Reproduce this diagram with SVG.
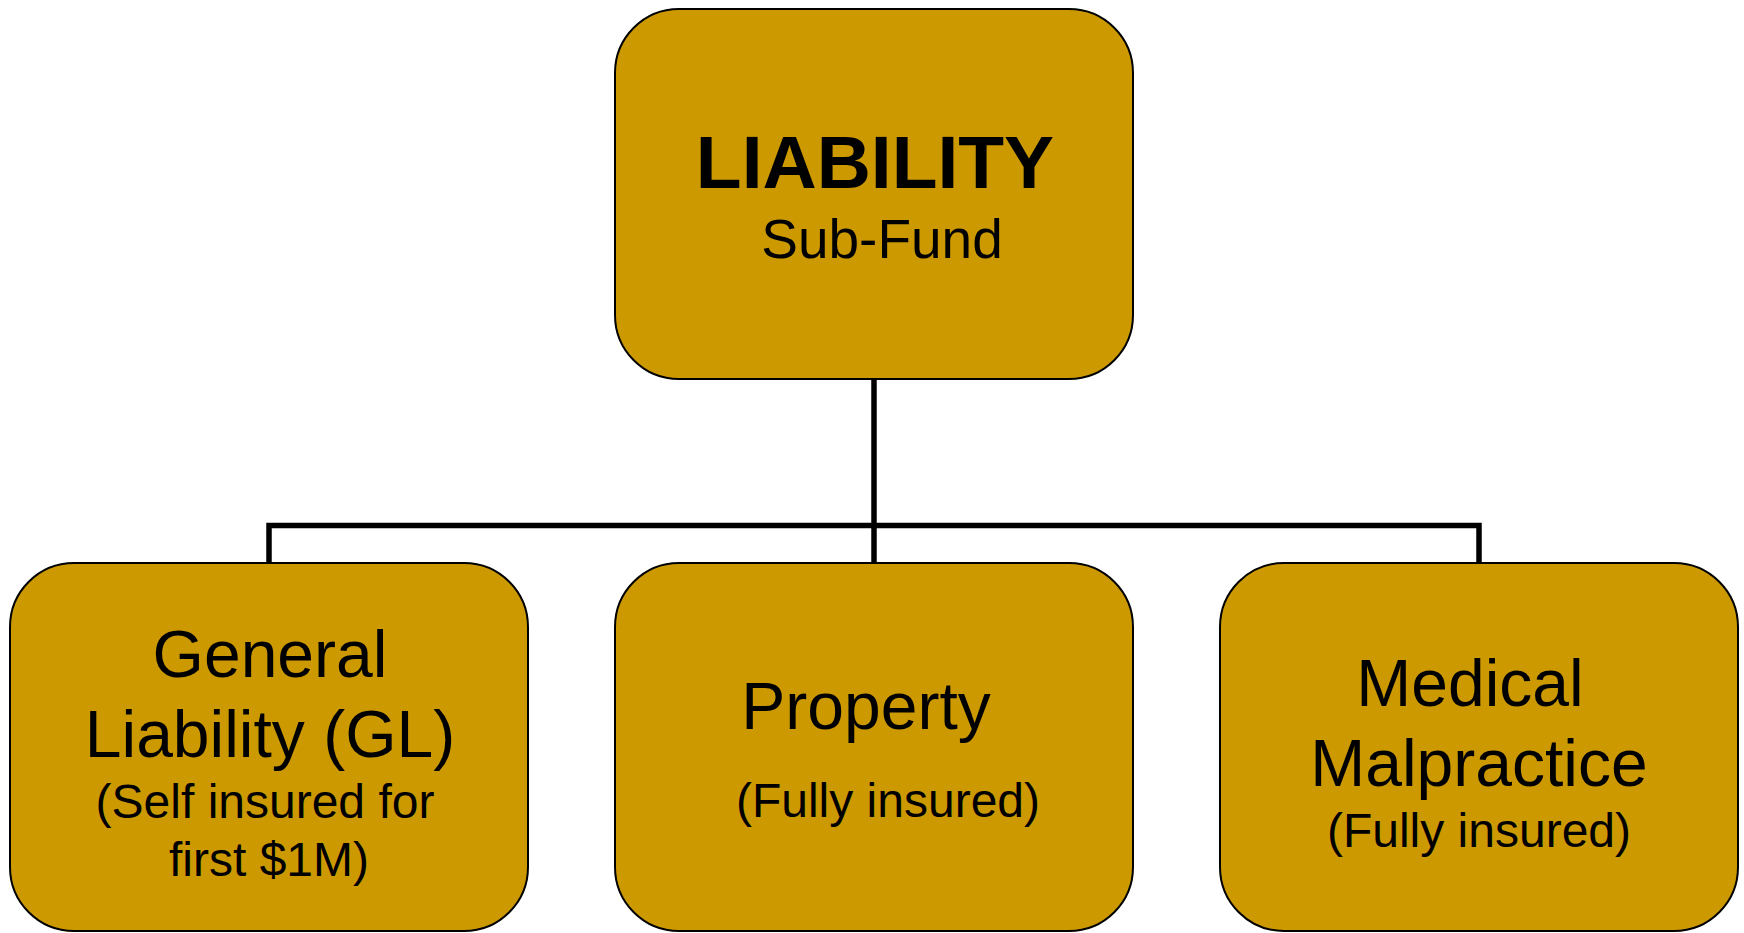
<svg xmlns="http://www.w3.org/2000/svg" width="1744" height="933" viewBox="0 0 1744 933">
<style>
.box{fill:#CC9900;stroke:#000;stroke-width:2}
.conn{fill:none;stroke:#000;stroke-width:5.5}
text{font-family:"Liberation Sans",Arial,sans-serif;fill:#000;text-anchor:middle}
.big{font-size:66px}
.small{font-size:48px}
</style>
<rect width="1744" height="933" fill="#fff"/>
<g id="connectors">
<path class="conn" d="M874 379 V563"/>
<path class="conn" d="M269 563 V525.5 H1479 V563"/>
</g>
<g id="liability">
<rect class="box" x="615" y="9" width="518" height="370" rx="64" ry="64"/>
<text x="875" y="188" font-size="75" font-weight="bold">LIABILITY</text>
<text x="882" y="258" font-size="55">Sub-Fund</text>
</g>
<g id="general-liability">
<rect class="box" x="10" y="563" width="518" height="368" rx="64" ry="64"/>
<text class="big" x="270" y="677">General</text>
<text class="big" x="270" y="757">Liability (GL)</text>
<text class="small" x="265" y="818">(Self insured for</text>
<text class="small" x="269" y="876">first $1M)</text>
</g>
<g id="property">
<rect class="box" x="615" y="563" width="518" height="368" rx="64" ry="64"/>
<text class="big" x="866" y="729">Property</text>
<text class="small" x="888" y="817">(Fully insured)</text>
</g>
<g id="medical-malpractice">
<rect class="box" x="1220" y="563" width="518" height="368" rx="64" ry="64"/>
<text class="big" x="1470" y="706">Medical</text>
<text class="big" x="1479" y="786">Malpractice</text>
<text class="small" x="1479" y="847">(Fully insured)</text>
</g>
</svg>
